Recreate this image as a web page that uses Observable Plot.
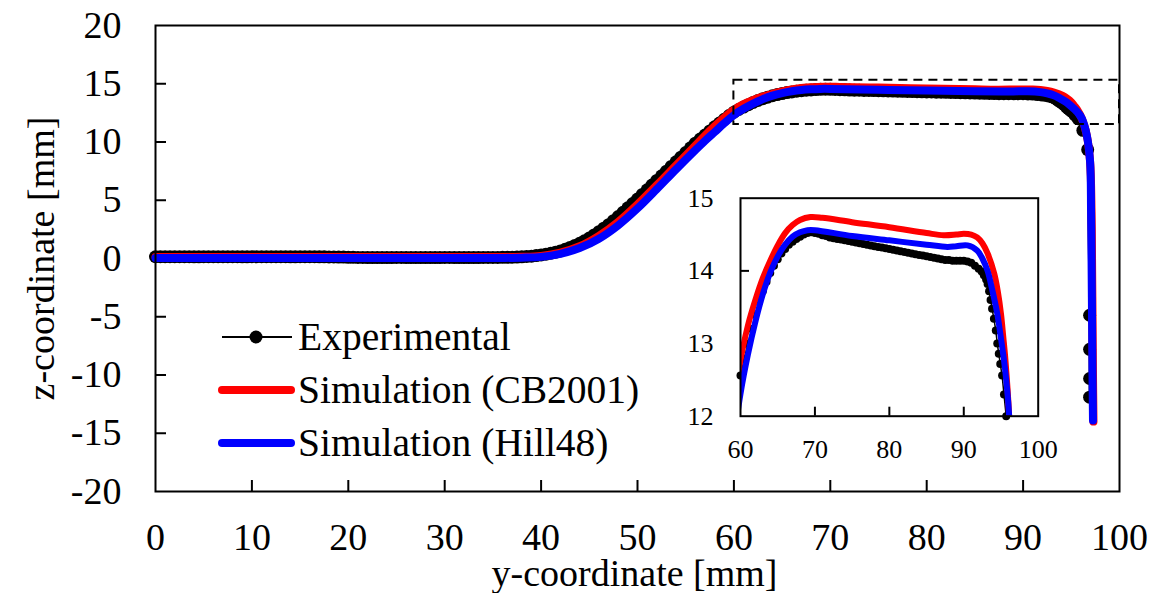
<!DOCTYPE html>
<html><head><meta charset="utf-8">
<script src="https://cdn.jsdelivr.net/npm/d3@7"></script>
<script src="https://cdn.jsdelivr.net/npm/@observablehq/plot@0.6"></script>
<style>
html,body{margin:0;padding:0;background:#fff;}
#wrap{position:relative;width:1174px;height:593px;overflow:hidden;}
</style></head><body><div id="wrap"></div>
<script>
// ---------- data ----------
const expY = [
  0,0.5,1,1.5,2,2.5,3,3.5,4,4.5,5,5.5,6,6.5,7,7.5,8,8.5,9,9.5,
  10,10.5,11,11.5,12,12.5,13,13.5,14,14.5,15,15.5,16,16.5,17,17.5,18,18.5,19,19.5,
  20,20.5,21,21.5,22,22.5,23,23.5,24,24.5,25,25.5,26,26.5,27,27.5,28,28.5,29,29.5,
  30,30.5,31,31.5,32,32.5,33,33.5,34,34.5,35,35.5,36,36.5,37,37.5,
  38,38.5,39,39.5,40,40.5,41,41.5,42,42.5,43,43.5,44,44.5,45,45.5,46,46.5,47,47.5,
  48,48.5,49,49.5,50,50.5,51,51.5,52,52.5,53,53.5,54,54.5,55,55.5,56,56.5,57,57.5,
  58,58.5,59,59.5,60,60.5,61,61.5,62,62.5,63,63.5,64,64.5,65,65.5,66,66.5,67,67.5,
  68,68.5,69,69.5,70,70.5,71,71.5,72,72.5,73,73.5,74,74.5,75,75.5,76,76.5,77,77.5,
  78,78.5,79,79.5,80,80.5,81,81.5,82,82.5,83,83.5,84,84.5,85,85.5,86,86.5,87,87.5,
  88,88.5,89,89.5,90,90.5,91,91.5,92,92.4,92.7,93,93.2,93.4,93.6,93.8,94.05,94.3,94.5,94.7,94.9,95.15,95.4,95.7,96.2,96.7,96.9,96.9,96.9,96.9];
const expZ = [
  0.15,0.15,0.16,0.16,0.15,0.15,0.15,0.15,0.14,0.14,0.15,0.15,0.16,0.16,0.15,0.15,0.15,0.15,0.14,0.14,
  0.15,0.15,0.15,0.15,0.16,0.16,0.15,0.15,0.14,0.14,0.15,0.15,0.15,0.15,0.14,0.14,0.13,0.13,0.12,0.12,
  0.1,0.1,0.09,0.09,0.08,0.08,0.08,0.08,0.08,0.08,0.09,0.09,0.08,0.08,0.08,0.08,0.08,0.08,0.08,0.08,
  0.09,0.09,0.08,0.08,0.08,0.08,0.08,0.08,0.09,0.09,0.09,0.09,0.1,0.1,0.11,0.12,
  0.14,0.17,0.2,0.25,0.3,0.37,0.45,0.54,0.65,0.79,0.95,1.12,1.3,1.52,1.75,2.02,2.3,2.6,2.9,3.25,
  3.6,3.97,4.35,4.72,5.1,5.5,5.9,6.3,6.7,7.1,7.5,7.9,8.3,8.7,9.1,9.5,9.9,10.25,10.6,10.95,
  11.3,11.63,11.95,12.27,12.56,12.79,13.0,13.2,13.4,13.57,13.72,13.85,13.97,14.07,14.16,14.24,14.3,14.36,14.4,14.44,
  14.47,14.5,14.52,14.53,14.52,14.51,14.49,14.48,14.46,14.45,14.44,14.43,14.42,14.41,14.4,14.39,14.38,14.37,14.36,14.35,
  14.34,14.33,14.32,14.31,14.3,14.29,14.28,14.27,14.26,14.25,14.24,14.23,14.22,14.21,14.2,14.19,14.18,14.17,14.16,14.15,
  14.15,14.14,14.14,14.14,14.14,14.13,14.11,14.07,14.03,13.99,13.94,13.88,13.82,13.72,13.6,13.48,13.34,13.18,13.0,12.86,12.72,12.56,12.3,12.0,11.0,9.34,-4.87,-7.8,-10.3,-11.9];

const cbY = [0,10,20,30,36,38,40,42,44,46,48,50,52,54,56,57,58,59,60,61,62,63,64,65,66,67,68,69.4,71,75,80,85,87.3,89,90,91,91.8,92.5,93.2,94.1,94.6,95,95.3,95.6,96.1,96.6,96.95,97.1,97.15,97.2,97.25,97.3];
const cbZ = [0.12,0.12,0.12,0.12,0.12,0.14,0.22,0.5,1.05,1.95,3.15,4.65,6.3,8.0,9.7,10.55,11.35,12.1,12.77,13.25,13.6,13.9,14.14,14.35,14.52,14.63,14.7,14.74,14.73,14.67,14.6,14.52,14.49,14.5,14.51,14.5,14.46,14.38,14.24,13.96,13.7,13.41,13.1,12.77,12.0,10.6,8.3,4,0,-5,-10,-14];

const hillY = [0,10,20,30,36,38,40,42,44,46,48,50,52,54,56,57,58,59,60,61,62,63,64,65,66,67,68,69,70,75,80,85,87.8,89,90.5,91.8,92.5,93.2,93.8,94.5,95,95.4,95.8,96.1,96.6,96.95,97.05,97.1,97.15,97.2,97.25];
const hillZ = [0.05,0.05,0.05,0.05,0.05,0.07,0.14,0.4,0.9,1.7,2.85,4.3,5.95,7.65,9.3,10.1,10.85,11.6,12.31,12.85,13.3,13.68,13.98,14.2,14.36,14.47,14.53,14.56,14.56,14.48,14.42,14.36,14.33,14.34,14.35,14.28,14.17,14.0,13.75,13.41,13.07,12.77,12.4,12.0,10.6,8.3,4,0,-5,-10,-13.9];

const xTicks = [0,10,20,30,40,50,60,70,80,90,100];
const yTicks = [-20,-15,-10,-5,0,5,10,15,20];
const insetXTicks = [60,70,80,90,100];
const insetYTicks = [12,13,14,15];
const zoomBoxY = [60,100];
const zoomBoxZ = [11.5,15.3];
const legendLabels = ["Experimental","Simulation (CB2001)","Simulation (Hill48)"];
const legendColors = ["#000000","#ff0000","#0000ff"];
const xTitle = "y-coordinate [mm]";
const yTitle = "z-coordinate [mm]";

// ---------- build ----------
const FONT = '"Liberation Serif","Times New Roman",Times,serif';
const pts = (xs, zs) => xs.map((x, i) => ({y: x, z: zs[i]}));
const exp = pts(expY, expZ), cb = pts(cbY, cbZ), hill = pts(hillY, hillZ);
const box = [{y1: zoomBoxY[0], y2: zoomBoxY[1], z1: zoomBoxZ[0], z2: zoomBoxZ[1]}];

const main = Plot.plot({
  width: 1174, height: 593,
  marginLeft: 155, marginRight: 55, marginTop: 25, marginBottom: 102,
  x: {domain: [xTicks[0], xTicks[xTicks.length-1]]},
  y: {domain: [yTicks[0], yTicks[yTicks.length-1]]},
  style: {fontFamily: FONT, fontSize: "38px", color: "#000", background: "#fff", overflow: "visible"},
  marks: [
    Plot.axisX({ticks: xTicks.slice(1,-1), tickSize: 11, dy: -11, strokeWidth: 2, tickFormat: () => "", label: null}),
    Plot.axisX({ticks: xTicks, tickSize: 0, tickPadding: 32, fontSize: 38, tickFormat: d => String(d), label: null}),
    Plot.axisY({ticks: yTicks.slice(1,-1), tickSize: 11, dx: 11, strokeWidth: 2, tickFormat: () => "", label: null}),
    Plot.axisY({ticks: yTicks, tickSize: 0, tickPadding: 34, fontSize: 38, tickFormat: d => String(d), label: null}),
    Plot.line(exp, {x: "y", y: "z", stroke: "#000", strokeWidth: 2}),
    Plot.dot(exp, {x: "y", y: "z", r: 6.5, fill: "#000"}),
    Plot.line(cb, {x: "y", y: "z", stroke: "#ff0000", strokeWidth: 8, curve: "catmull-rom"}),
    Plot.line(hill, {x: "y", y: "z", stroke: "#0000ff", strokeWidth: 8, curve: "catmull-rom"}),
    Plot.frame({stroke: "#000", strokeWidth: 2}),
    Plot.rect(box, {x1: "y1", x2: "y2", y1: "z1", y2: "z2", fill: "none", stroke: "#000", strokeWidth: 2, strokeDasharray: "9,6"}),
    Plot.text([xTitle], {text: d => d, frameAnchor: "bottom", textAnchor: "middle", lineAnchor: "middle", dy: 82, dx: -3, fontSize: 38}),
    Plot.text([yTitle], {text: d => d, frameAnchor: "left", textAnchor: "middle", lineAnchor: "middle", rotate: -90, dx: -114, fontSize: 38})
  ]
});

const inX = [insetXTicks[0], insetXTicks[insetXTicks.length-1]];
const inZ = [insetYTicks[0], insetYTicks[insetYTicks.length-1]];
const expIn = exp.filter(d => d.y >= inX[0] && d.y <= inX[1] && d.z >= inZ[0] && d.z <= inZ[1]);

const inset = Plot.plot({
  width: 370, height: 290,
  marginLeft: 60, marginRight: 12.3, marginTop: 17.7, marginBottom: 54.3,
  x: {domain: inX}, y: {domain: inZ},
  style: {fontFamily: FONT, fontSize: "26px", color: "#000", background: "transparent", overflow: "visible"},
  marks: [
    Plot.axisX({ticks: insetXTicks.slice(1,-1), tickSize: 9, dy: -9, strokeWidth: 2, tickFormat: () => "", label: null}),
    Plot.axisX({ticks: insetXTicks, tickSize: 0, tickPadding: 23, fontSize: 26, tickFormat: d => String(d), label: null}),
    Plot.axisY({ticks: insetYTicks.slice(1,-1), tickSize: 9, dx: 9, strokeWidth: 2, tickFormat: () => "", label: null}),
    Plot.axisY({ticks: insetYTicks, tickSize: 0, tickPadding: 27, fontSize: 26, tickFormat: d => String(d), label: null}),
    Plot.line(exp, {x: "y", y: "z", stroke: "#000", strokeWidth: 1.5, clip: true}),
    Plot.dot(expIn, {x: "y", y: "z", r: 4, fill: "#000"}),
    Plot.line(cb, {x: "y", y: "z", stroke: "#ff0000", strokeWidth: 6, curve: "catmull-rom", clip: true}),
    Plot.line(hill, {x: "y", y: "z", stroke: "#0000ff", strokeWidth: 6, curve: "catmull-rom", clip: true}),
    Plot.frame({stroke: "#000", strokeWidth: 2})
  ]
});
inset.style.position = "absolute";
inset.style.left = "680px";
inset.style.top = "180px";

// legend overlay
const leg = d3.create("svg").attr("width", 1174).attr("height", 593)
  .style("position", "absolute").style("left", "0px").style("top", "0px")
  .style("font-family", FONT);
legendLabels.forEach((lab, i) => {
  const cy = 337 + i * 53;
  const g = leg.append("g");
  if (i === 0) {
    g.append("line").attr("x1", 222).attr("x2", 292).attr("y1", cy).attr("y2", cy)
      .attr("stroke", legendColors[i]).attr("stroke-width", 2);
    g.append("circle").attr("cx", 256).attr("cy", cy).attr("r", 6.5).attr("fill", legendColors[i]);
  } else {
    g.append("line").attr("x1", 222).attr("x2", 291).attr("y1", cy).attr("y2", cy)
      .attr("stroke", legendColors[i]).attr("stroke-width", 8).attr("stroke-linecap", "round");
  }
  g.append("text").attr("x", 298).attr("y", cy + 13).attr("font-size", 39.5).attr("fill", "#000").text(lab);
});

const wrap = document.getElementById("wrap");
wrap.appendChild(main);
wrap.appendChild(inset);
wrap.appendChild(leg.node());
</script>
</body></html>
